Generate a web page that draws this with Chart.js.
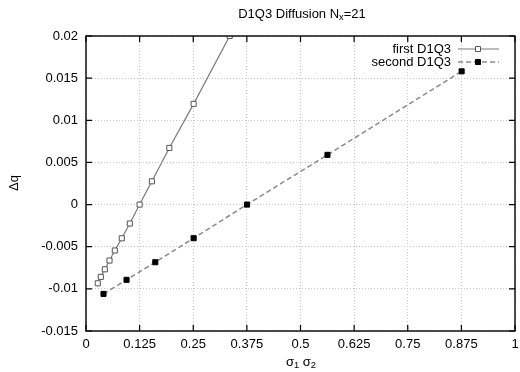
<!DOCTYPE html>
<html>
<head>
<meta charset="utf-8">
<script src="https://cdn.jsdelivr.net/npm/chart.js@4/dist/chart.umd.min.js"></script>
<style>
  html, body { margin: 0; padding: 0; background: #fff; }
  #wrap { width: 520px; height: 372px; }
</style>
</head>
<body>
<div id="wrap"><canvas id="c" width="520" height="372"></canvas></div>
<script>
// sigma1*sigma2 values and the resulting Delta q for the two D1Q3 schemes
const firstX  = [0.0275, 0.0345, 0.0439, 0.0548, 0.0672, 0.0835, 0.1022, 0.1249, 0.1536, 0.1942, 0.2509, 0.3349];
const firstY  = [-0.00934, -0.00858, -0.00768, -0.00664, -0.00545, -0.00400, -0.00225, 0.0000, 0.00276, 0.00672, 0.01195, 0.0200];
const secondX = [0.0408, 0.0945, 0.1615, 0.2509, 0.3753, 0.5629, 0.8756];
const secondY = [-0.01060, -0.00893, -0.00684, -0.00399, 0.0000, 0.00590, 0.01581];

const seriesNames = ['first D1Q3', 'second D1Q3'];
const xTicks = [0, 0.125, 0.25, 0.375, 0.5, 0.625, 0.75, 0.875, 1];
const yTicks = [-0.015, -0.01, -0.005, 0, 0.005, 0.01, 0.015, 0.02];
const xTickLabels = ['0', '0.125', '0.25', '0.375', '0.5', '0.625', '0.75', '0.875', '1'];
const yTickLabels = ['-0.015', '-0.01', '-0.005', '0', '0.005', '0.01', '0.015', '0.02'];

const FONT = '"Liberation Sans", Arial, Helvetica, sans-serif';
const toPoints = (xs, ys) => xs.map((x, i) => ({ x: x, y: ys[i] }));

// draw a string made of normal and subscript pieces, centred on (cx, cy)
function richText(ctx, parts, cx, cy, size) {
  ctx.save();
  ctx.textBaseline = 'middle';
  ctx.textAlign = 'left';
  let total = 0;
  const widths = parts.map(p => {
    ctx.font = (p.sub ? size * 0.72 : size) + 'px ' + FONT;
    const w = ctx.measureText(p.t).width;
    total += w;
    return w;
  });
  let x = cx - total / 2;
  parts.forEach((p, i) => {
    ctx.font = (p.sub ? size * 0.72 : size) + 'px ' + FONT;
    ctx.fillText(p.t, x, p.sub ? cy + size * 0.3 : cy);
    x += widths[i];
  });
  ctx.restore();
}

const decorations = {
  id: 'decorations',
  afterDatasetsDraw(chart) {
    const { ctx, chartArea: a, scales } = chart;
    ctx.save();
    // frame
    ctx.strokeStyle = '#000';
    ctx.lineWidth = 1.4;
    ctx.strokeRect(a.left, a.top, a.right - a.left, a.bottom - a.top);
    // inward tick marks on all four sides
    ctx.lineWidth = 1.2;
    ctx.beginPath();
    const tl = 6;
    xTicks.forEach(v => {
      const px = scales.x.getPixelForValue(v);
      ctx.moveTo(px, a.bottom); ctx.lineTo(px, a.bottom - tl);
      ctx.moveTo(px, a.top); ctx.lineTo(px, a.top + tl);
    });
    yTicks.forEach(v => {
      const py = scales.y.getPixelForValue(v);
      ctx.moveTo(a.left, py); ctx.lineTo(a.left + tl, py);
      ctx.moveTo(a.right, py); ctx.lineTo(a.right - tl, py);
    });
    ctx.stroke();

    // legend, text right-aligned with line samples on the right
    ctx.font = '13px ' + FONT;
    ctx.fillStyle = '#000';
    ctx.textAlign = 'right';
    ctx.textBaseline = 'middle';
    const rows = [49, 62];
    chart.data.datasets.forEach((ds, i) => {
      const y = rows[i];
      ctx.fillStyle = '#000';
      ctx.fillText(seriesNames[i], 451, y);
      ctx.save();
      ctx.strokeStyle = ds.borderColor;
      ctx.lineWidth = ds.borderWidth;
      ctx.setLineDash(ds.borderDash || []);
      ctx.beginPath();
      ctx.moveTo(458, y); ctx.lineTo(499, y);
      ctx.stroke();
      ctx.restore();
      ctx.save();
      ctx.fillStyle = ds.pointBackgroundColor;
      ctx.strokeStyle = ds.pointBorderColor;
      ctx.lineWidth = ds.pointBorderWidth;
      const s = 2.5;
      ctx.beginPath();
      ctx.rect(478 - s, y - s, 2 * s, 2 * s);
      ctx.fill();
      ctx.stroke();
      ctx.restore();
    });

    // title and axis titles
    ctx.fillStyle = '#000';
    richText(ctx, [{ t: 'D1Q3 Diffusion N' }, { t: 'x', sub: true }, { t: '=21' }], 302, 14, 13);
    richText(ctx, [{ t: 'σ' }, { t: '1', sub: true }, { t: ' σ' }, { t: '2', sub: true }], 301, 362, 13);
    ctx.save();
    ctx.translate(14, 183);
    ctx.rotate(-Math.PI / 2);
    richText(ctx, [{ t: 'Δq' }], 0, 0, 13);
    ctx.restore();
    ctx.restore();
  }
};

new Chart(document.getElementById('c'), {
  type: 'scatter',
  data: {
    datasets: [
      {
        label: seriesNames[0],
        data: toPoints(firstX, firstY),
        showLine: true,
        borderColor: '#7a7a7a',
        borderWidth: 1.2,
        pointStyle: 'rect',
        pointRadius: 3.6,
        pointBorderWidth: 1,
        pointBackgroundColor: '#ffffff',
        pointBorderColor: '#555555'
      },
      {
        label: seriesNames[1],
        data: toPoints(secondX, secondY),
        showLine: true,
        borderColor: '#8a8a8a',
        borderWidth: 1.5,
        borderDash: [5, 3],
        pointStyle: 'rect',
        pointRadius: 3.6,
        pointBorderWidth: 1,
        pointBackgroundColor: '#000000',
        pointBorderColor: '#000000'
      }
    ]
  },
  options: {
    responsive: false,
    animation: false,
    layout: { padding: { top: 36, right: 5, bottom: 0, left: 0 } },
    plugins: { legend: { display: false }, tooltip: { enabled: false }, title: { display: false } },
    scales: {
      x: {
        type: 'linear', min: 0, max: 1,
        afterBuildTicks: s => { s.ticks = xTicks.map(v => ({ value: v })); },
        afterFit: s => { s.height = 41; s.paddingLeft = 0; s.paddingRight = 0; },
        ticks: {
          padding: 6, color: '#000', font: { family: FONT, size: 13 }, maxRotation: 0, autoSkip: false,
          callback: (v, i) => xTickLabels[i]
        },
        grid: { color: '#c4c4c4', lineWidth: 1, drawTicks: false },
        border: { display: false, dash: [1, 2] }
      },
      y: {
        type: 'linear', min: -0.015, max: 0.02,
        afterBuildTicks: s => { s.ticks = yTicks.map(v => ({ value: v })); },
        afterFit: s => { s.width = 86; s.paddingTop = 0; s.paddingBottom = 0; },
        ticks: {
          padding: 8, color: '#000', font: { family: FONT, size: 13 }, autoSkip: false,
          callback: (v, i) => yTickLabels[i]
        },
        grid: { color: '#c4c4c4', lineWidth: 1, drawTicks: false },
        border: { display: false, dash: [1, 2] }
      }
    }
  },
  plugins: [decorations]
});
</script>
</body>
</html>
